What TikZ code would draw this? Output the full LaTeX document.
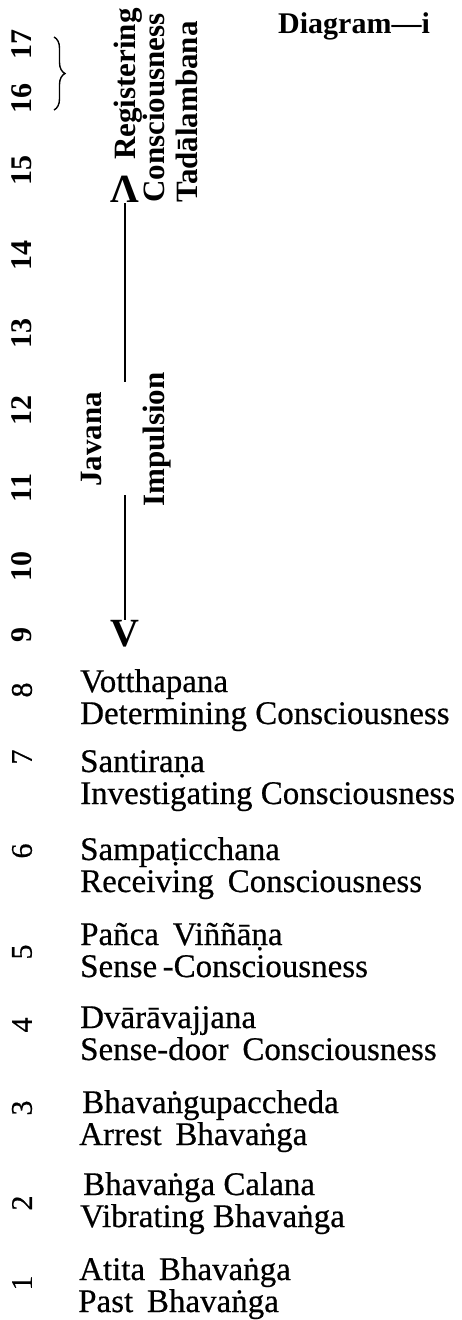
\documentclass[tikz,border=0pt]{standalone}
\usepackage{fontspec}
\setmainfont{Liberation Serif}
\newfontfamily\inkfont[FakeBold=0.5]{Liberation Serif}
\usetikzlibrary{decorations.pathreplacing}
\begin{document}
\begin{tikzpicture}[x=1pt,y=-1pt,
  lbl/.style={inner sep=0pt, anchor=base west, font=\inkfont\fontsize{33}{33}\selectfont},
  rlbl/.style={inner sep=0pt, anchor=base west, rotate=90, font=\bfseries\fontsize{31}{31}\selectfont},
  bnum/.style={inner sep=0pt, anchor=center, rotate=90, font=\bfseries\fontsize{30}{30}\selectfont},
  snum/.style={inner sep=0pt, anchor=center, rotate=90, font=\inkfont\fontsize{30}{30}\selectfont},
  headfont/.style={inner sep=0pt, font=\bfseries\fontsize{40}{40}\selectfont},
  shaft/.style={line width=1.6pt},
  ]
\useasboundingbox (0,0) rectangle (462,1320);

% title
\node[inner sep=0pt, anchor=base west, font=\bfseries\fontsize{30}{30}\selectfont] (title) at (278,33) {Diagram—i};

% numbers 9-17
\node[bnum] (n17) at (22,44) {17};
\node[bnum] (n16) at (22,98) {16};
\node[bnum] (n15) at (22,170) {15};
\node[bnum] (n14) at (22,255) {14};
\node[bnum] (n13) at (22,333) {13};
\node[bnum] (n12) at (22,410) {12};
\node[bnum] (n11) at (22,488) {11};
\node[bnum] (n10) at (22,566) {10};
\node[bnum] (n9)  at (22,635) {9};

% brace for 16-17
\coordinate (brT) at (54,37);
\coordinate (brB) at (54,110);
\draw[decorate, decoration={brace, amplitude=11pt}, line width=1.4pt] (brT) -- (brB);

% registering block
\node[rlbl] (reg) at (135,160) {Registering};
\node[rlbl] (con) at (164,203) {Consciousness};
\node[rlbl] (tad) at (197,203) {Tadālambana};

% javana / impulsion
\node[rlbl] (jav) at (101,487) {Javana};
\node[rlbl] (imp) at (164,507) {Impulsion};

% arrow heads as glyphs and shaft
\node[headfont, anchor=south] (up) at (125,203) {Λ};
\node[headfont, anchor=north] (down) at (125,620) {V};
\coordinate (gapT) at (125,382);
\coordinate (gapB) at (125,495);
\draw[shaft] (up.south) -- (gapT);
\draw[shaft] (gapB) -- (down.north);

% lower list
\node[snum] (n8) at (22,690) {8};
\node[lbl] (a8) at (80,692) {Votthapana};
\node[lbl] (b8) at (80,724) {Determining Consciousness};

\node[snum] (n7) at (22,757) {7};
\node[lbl] (a7) at (80,772) {Santiraṇa};
\node[lbl] (b7) at (80,804) {Investigating Consciousness};

\node[snum] (n6) at (22,851) {6};
\node[lbl] (a6) at (80,860) {Sampaṭicchana};
\node[lbl] (b6) at (80,892) {Receiving\, Consciousness};

\node[snum] (n5) at (22,952) {5};
\node[lbl] (a5) at (80,945) {Pañca\, Viññāṇa};
\node[lbl] (b5) at (80,977) {Sense\,-Consciousness};

\node[snum] (n4) at (22,1025) {4};
\node[lbl] (a4) at (80,1028) {Dvārāvajjana};
\node[lbl] (b4) at (80,1060) {Sense-door\, Consciousness};

\node[snum] (n3) at (22,1108) {3};
\node[lbl] (a3) at (82,1113) {Bhavaṅgupaccheda};
\node[lbl] (b3) at (79,1145) {Arrest\, Bhavaṅga};

\node[snum] (n2) at (22,1203) {2};
\node[lbl] (a2) at (83,1195) {Bhavaṅga Calana};
\node[lbl] (b2) at (80,1227) {Vibrating Bhavaṅga};

\node[snum] (n1) at (22,1283) {1};
\node[lbl] (a1) at (79,1280) {Atita\, Bhavaṅga};
\node[lbl] (b1) at (78,1312) {Past\, Bhavaṅga};
\end{tikzpicture}
\end{document}
